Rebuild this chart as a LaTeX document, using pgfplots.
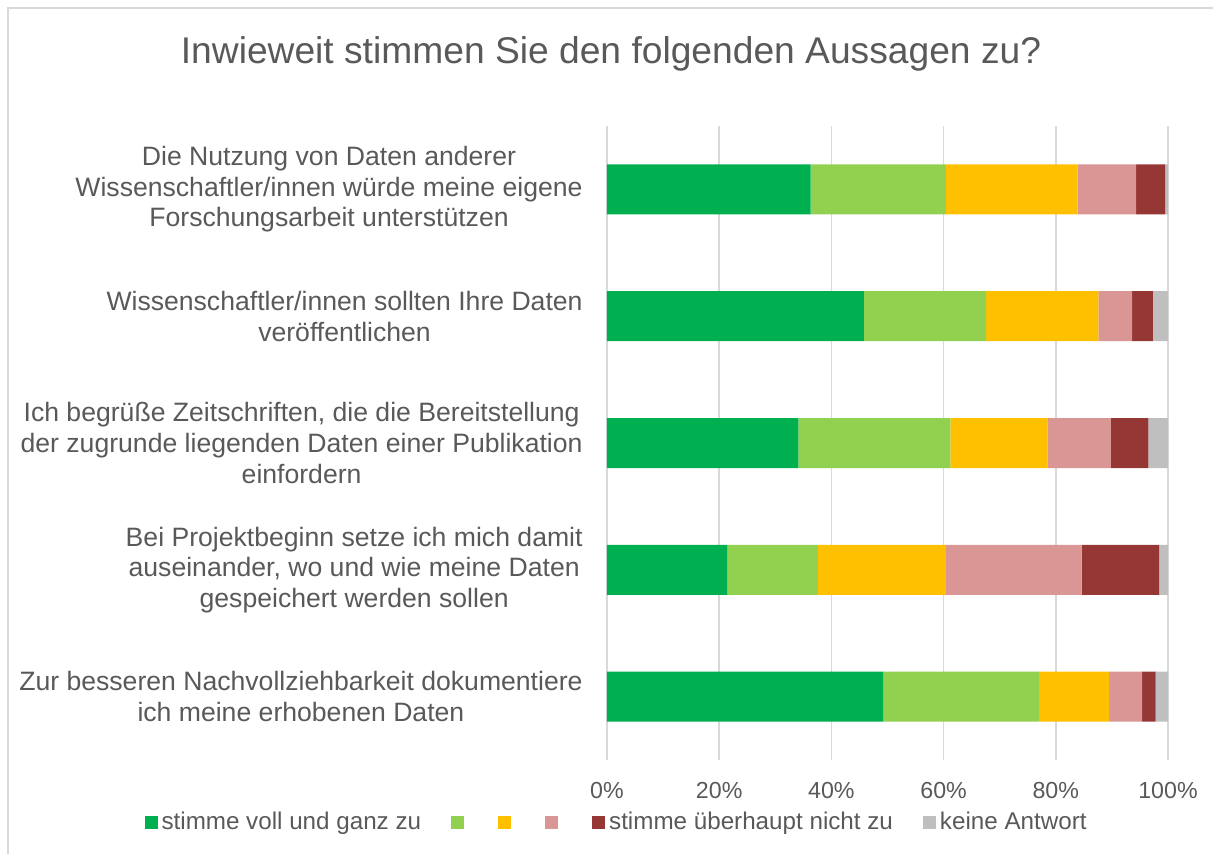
\documentclass[border=0pt]{standalone}
\usepackage{fontspec}
\setmainfont{Liberation Sans}
\usepackage{pgfplots}
\usepackage{pgfplotstable}
\pgfplotsset{compat=1.18}

\definecolor{voll}{HTML}{00B050}
\definecolor{eher}{HTML}{92D050}
\definecolor{teils}{HTML}{FFC000}
\definecolor{wenig}{HTML}{DA9694}
\definecolor{nicht}{HTML}{953735}
\definecolor{keine}{HTML}{BFBFBF}
\definecolor{txt}{HTML}{595959}
\definecolor{gridc}{HTML}{D9D9D9}

% Anteile in Prozent, Zeile 0 = oberste Aussage
\pgfplotstableread{
idx a    b    c    d    e    f
0   36.3 24.1 23.5 10.4 5.2  0.5
1   45.8 21.8 20.0 6.0  3.7  2.7
2   34.1 27.1 17.3 11.3 6.7  3.5
3   21.4 16.2 22.8 24.2 13.8 1.6
4   49.2 27.8 12.5 5.9  2.4  2.2
}\antworten

\begin{document}
\begin{tikzpicture}[x=1pt,y=1pt]
\useasboundingbox (-303.5,-47) rectangle (303,380);
\draw[gridc, line width=0.75pt] (-299.5,-47) -- (-299.5,376) -- (303,376);
\node[font=\fontsize{18.6}{22}\selectfont, text=txt] at (2,353) {Inwieweit stimmen Sie den folgenden Aussagen zu?};
\begin{axis}[
    at={(0,0)}, anchor=south west,
    scale only axis,
    width=280.5pt, height=317pt,
    xbar stacked,
    bar width=25pt,
    xmin=0, xmax=100,
    ymin=-0.5, ymax=4.5,
    y dir=reverse,
    ytick={0,1,2,3,4},
    yticklabels={
        {Die Nutzung von Daten anderer\\Wissenschaftler/innen würde meine eigene\\Forschungsarbeit unterstützen},
        {Wissenschaftler/innen sollten Ihre Daten\\veröffentlichen},
        {Ich begrüße Zeitschriften, die die Bereitstellung\\der zugrunde liegenden Daten einer Publikation\\einfordern},
        {Bei Projektbeginn setze ich mich damit\\auseinander, wo und wie meine Daten\\gespeichert werden sollen},
        {Zur besseren Nachvollziehbarkeit dokumentiere\\ich meine erhobenen Daten}},
    xtick={0,20,40,60,80,100},
    xticklabel={\pgfmathprintnumber{\tick}\%},
    /pgf/number format/assume math mode=true,
    xmajorgrids,
    grid style={gridc, line width=0.75pt},
    axis line style={draw=none},
    major tick length=0pt,
    yticklabel style={inner sep=0pt, xshift=-12pt, align=center, text=txt,
        font=\fontsize{13.3}{15.3}\selectfont},
    xticklabel style={inner sep=0pt, yshift=-11pt, text=txt,
        font=\fontsize{11.6}{13}\selectfont},
    legend style={at={(axis description cs:0.018,-0.098)}, anchor=center,
        draw=none, fill=none, legend columns=-1, text=txt,
        font=\fontsize{12.1}{13}\selectfont,
        nodes={inner xsep=1.5pt, inner ysep=1pt},
        /tikz/every even column/.append style={column sep=13.5pt}},
    legend image code/.code={\fill[#1] (0pt,-3.25pt) rectangle (6.5pt,3.25pt);
        \path (0pt,0pt) -- (7pt,0pt);},
]
\addplot[fill=voll, draw=none] table[x=a, y=idx] {\antworten};
\addlegendentry{stimme voll und ganz zu}
\addplot[fill=eher, draw=none] table[x=b, y=idx] {\antworten};
\addlegendentry{}
\addplot[fill=teils, draw=none] table[x=c, y=idx] {\antworten};
\addlegendentry{}
\addplot[fill=wenig, draw=none] table[x=d, y=idx] {\antworten};
\addlegendentry{}
\addplot[fill=nicht, draw=none] table[x=e, y=idx] {\antworten};
\addlegendentry{stimme überhaupt nicht zu}
\addplot[fill=keine, draw=none] table[x=f, y=idx] {\antworten};
\addlegendentry{keine Antwort}
\end{axis}
\end{tikzpicture}
\end{document}
